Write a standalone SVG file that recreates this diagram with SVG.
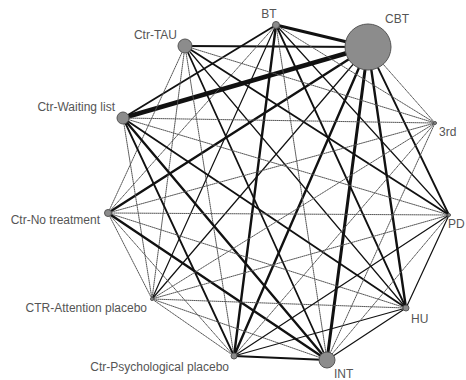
<svg xmlns="http://www.w3.org/2000/svg" width="466" height="380" viewBox="0 0 466 380">
<style>
.bg{fill:#fff}
line{stroke-linecap:round}
.e0{stroke:#555;stroke-width:1;stroke-dasharray:1 1}
.e1{stroke:#111;stroke-width:1.2}
.e2{stroke:#111;stroke-width:1.8}
.e3{stroke:#111;stroke-width:2.4}
.e4{stroke:#111;stroke-width:3}
.e5{stroke:#111;stroke-width:4.5}
.n{fill:#8c8c8c;stroke:#555;stroke-width:1}
.lbl{font-family:"Liberation Sans",Arial,sans-serif;font-size:12px;fill:#555}
</style>
<rect class="bg" width="466" height="380"/>
<g id="connectors">
<line class="e4" x1="368" y1="47" x2="276" y2="25"/>
<line class="e2" x1="368" y1="47" x2="185" y2="46"/>
<line class="e5" x1="368" y1="47" x2="123" y2="118"/>
<line class="e3" x1="368" y1="47" x2="108" y2="213"/>
<line class="e1" x1="368" y1="47" x2="152" y2="299"/>
<line class="e3" x1="368" y1="47" x2="234" y2="356"/>
<line class="e4" x1="368" y1="47" x2="327" y2="360"/>
<line class="e3" x1="368" y1="47" x2="406" y2="308"/>
<line class="e2" x1="368" y1="47" x2="449" y2="215"/>
<line class="e0" x1="368" y1="47" x2="435" y2="123"/>
<line class="e2" x1="276" y1="25" x2="123" y2="118"/>
<line class="e0" x1="276" y1="25" x2="108" y2="213"/>
<line class="e1" x1="276" y1="25" x2="152" y2="299"/>
<line class="e3" x1="276" y1="25" x2="234" y2="356"/>
<line class="e0" x1="276" y1="25" x2="327" y2="360"/>
<line class="e2" x1="276" y1="25" x2="406" y2="308"/>
<line class="e1" x1="276" y1="25" x2="449" y2="215"/>
<line class="e0" x1="276" y1="25" x2="435" y2="123"/>
<line class="e0" x1="185" y1="46" x2="108" y2="213"/>
<line class="e0" x1="185" y1="46" x2="152" y2="299"/>
<line class="e0" x1="185" y1="46" x2="234" y2="356"/>
<line class="e2" x1="185" y1="46" x2="327" y2="360"/>
<line class="e1" x1="185" y1="46" x2="406" y2="308"/>
<line class="e2" x1="185" y1="46" x2="449" y2="215"/>
<line class="e0" x1="185" y1="46" x2="435" y2="123"/>
<line class="e0" x1="123" y1="118" x2="152" y2="299"/>
<line class="e2" x1="123" y1="118" x2="234" y2="356"/>
<line class="e3" x1="123" y1="118" x2="327" y2="360"/>
<line class="e2" x1="123" y1="118" x2="406" y2="308"/>
<line class="e0" x1="123" y1="118" x2="449" y2="215"/>
<line class="e0" x1="123" y1="118" x2="435" y2="123"/>
<line class="e0" x1="108" y1="213" x2="152" y2="299"/>
<line class="e0" x1="108" y1="213" x2="234" y2="356"/>
<line class="e3" x1="108" y1="213" x2="327" y2="360"/>
<line class="e0" x1="108" y1="213" x2="406" y2="308"/>
<line class="e0" x1="108" y1="213" x2="449" y2="215"/>
<line class="e0" x1="108" y1="213" x2="435" y2="123"/>
<line class="e0" x1="152" y1="299" x2="234" y2="356"/>
<line class="e0" x1="152" y1="299" x2="327" y2="360"/>
<line class="e0" x1="152" y1="299" x2="406" y2="308"/>
<line class="e0" x1="152" y1="299" x2="449" y2="215"/>
<line class="e0" x1="152" y1="299" x2="435" y2="123"/>
<line class="e2" x1="234" y1="356" x2="327" y2="360"/>
<line class="e1" x1="234" y1="356" x2="406" y2="308"/>
<line class="e1" x1="234" y1="356" x2="449" y2="215"/>
<line class="e0" x1="234" y1="356" x2="435" y2="123"/>
<line class="e1" x1="327" y1="360" x2="406" y2="308"/>
<line class="e0" x1="327" y1="360" x2="449" y2="215"/>
<line class="e0" x1="327" y1="360" x2="435" y2="123"/>
<line class="e1" x1="406" y1="308" x2="449" y2="215"/>
</g>
<g id="node-cbt"><circle class="n" cx="368" cy="47" r="23"/><text class="lbl" x="385" y="23">CBT</text></g>
<g id="node-bt"><circle class="n" cx="276" cy="25" r="3.5"/><text class="lbl" x="269" y="18" text-anchor="middle">BT</text></g>
<g id="node-tau"><circle class="n" cx="185" cy="46" r="7"/><text class="lbl" x="177" y="39" text-anchor="end">Ctr-TAU</text></g>
<g id="node-wl"><circle class="n" cx="123" cy="118" r="6"/><text class="lbl" x="115" y="111" text-anchor="end">Ctr-Waiting list</text></g>
<g id="node-nt"><circle class="n" cx="108" cy="213" r="3.5"/><text class="lbl" x="100" y="224" text-anchor="end">Ctr-No treatment</text></g>
<g id="node-ap"><circle class="n" cx="152" cy="299" r="1.5"/><text class="lbl" x="147" y="312" text-anchor="end">CTR-Attention placebo</text></g>
<g id="node-pp"><circle class="n" cx="234" cy="356" r="3"/><text class="lbl" x="229" y="371" text-anchor="end">Ctr-Psychological placebo</text></g>
<g id="node-int"><circle class="n" cx="327" cy="360" r="8"/><text class="lbl" x="334" y="378">INT</text></g>
<g id="node-hu"><circle class="n" cx="406" cy="308" r="3"/><text class="lbl" x="411" y="323">HU</text></g>
<g id="node-pd"><circle class="n" cx="449" cy="215" r="1.5"/><text class="lbl" x="448" y="228">PD</text></g>
<g id="node-3rd"><circle class="n" cx="435" cy="123" r="1.5"/><text class="lbl" x="439" y="136">3rd</text></g>
</svg>
